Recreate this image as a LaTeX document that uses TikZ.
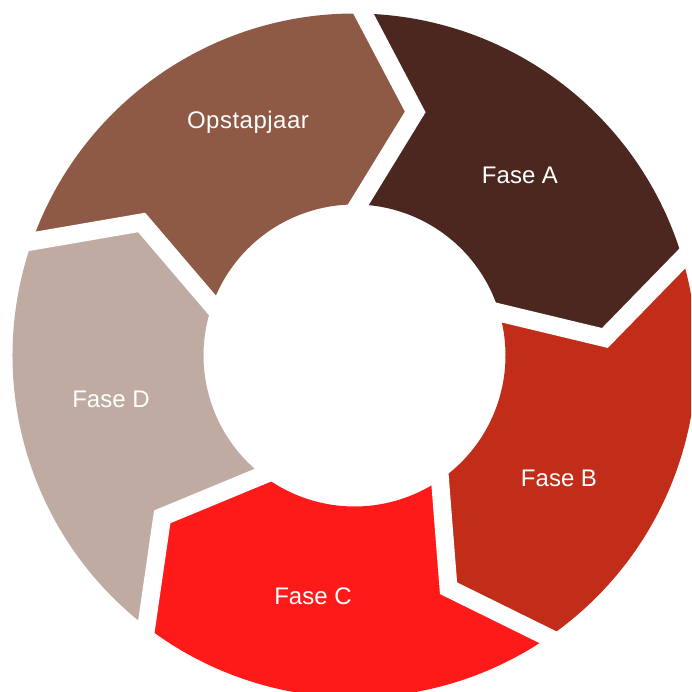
\documentclass[tikz,border=0pt]{standalone}
\usepackage{fontspec}
\setmainfont{Liberation Sans}
\usetikzlibrary{calc}
\definecolor{cOp}{HTML}{8F5A45}
\definecolor{cA}{HTML}{4B271F}
\definecolor{cB}{HTML}{C22D19}
\definecolor{cC}{HTML}{FF1A1A}
\definecolor{cD}{HTML}{C0ABA3}
\begin{document}
\begin{tikzpicture}[x=1pt,y=1pt,
  seglabel/.style={text=white,font=\fontsize{24}{28}\selectfont,inner sep=0pt},
  gapline/.style={white,line width=18pt,line join=miter,miter limit=20}]
\useasboundingbox (0,0) rectangle (691,692);
\clip (0,0) rectangle (691,692);
\begin{scope}[shift={(354.5,336.5)}]
\def\R{342}\def\r{151}\def\Rm{251}\def\d{12.5}
\foreach \a/\c in {160.5/cOp, 88.5/cA, 16.5/cB, -55.5/cC, -127.5/cD} {
  \pgfmathsetmacro\b{\a-72}
  \pgfmathsetmacro\bt{\b-\d}
  \pgfmathsetmacro\at{\a-\d}
  \fill[\c] (\a:\R) arc[start angle=\a, end angle=\b, radius=\R]
     -- (\bt:\Rm) -- (\b:\r) arc[start angle=\b, end angle=\a, radius=\r]
     -- (\at:\Rm) -- cycle;
}
\foreach \a in {160.5, 88.5, 16.5, -55.5, -127.5} {
  \pgfmathsetmacro\at{\a-\d}
  \coordinate (tip) at (\at:\Rm);
  \draw[gapline] ($(tip)!1.3!(\a:\R)$) -- (tip) -- ($(tip)!1.3!(\a:\r)$);
}
\end{scope}
\node[seglabel] (op) at (248,570) {O\kern0.5pt p\kern0.5pt s\kern0.5pt t\kern0.5pt a\kern0.5pt p\kern0.5pt j\kern0.5pt a\kern0.5pt a\kern0.5pt r};
\node[seglabel] (fa) at (520,517) {Fase A};
\node[seglabel] (fb) at (559,214) {Fase B};
\node[seglabel] (fc) at (313,96) {Fase C};
\node[seglabel] (fd) at (111,293) {Fase D};
\end{tikzpicture}
\end{document}
